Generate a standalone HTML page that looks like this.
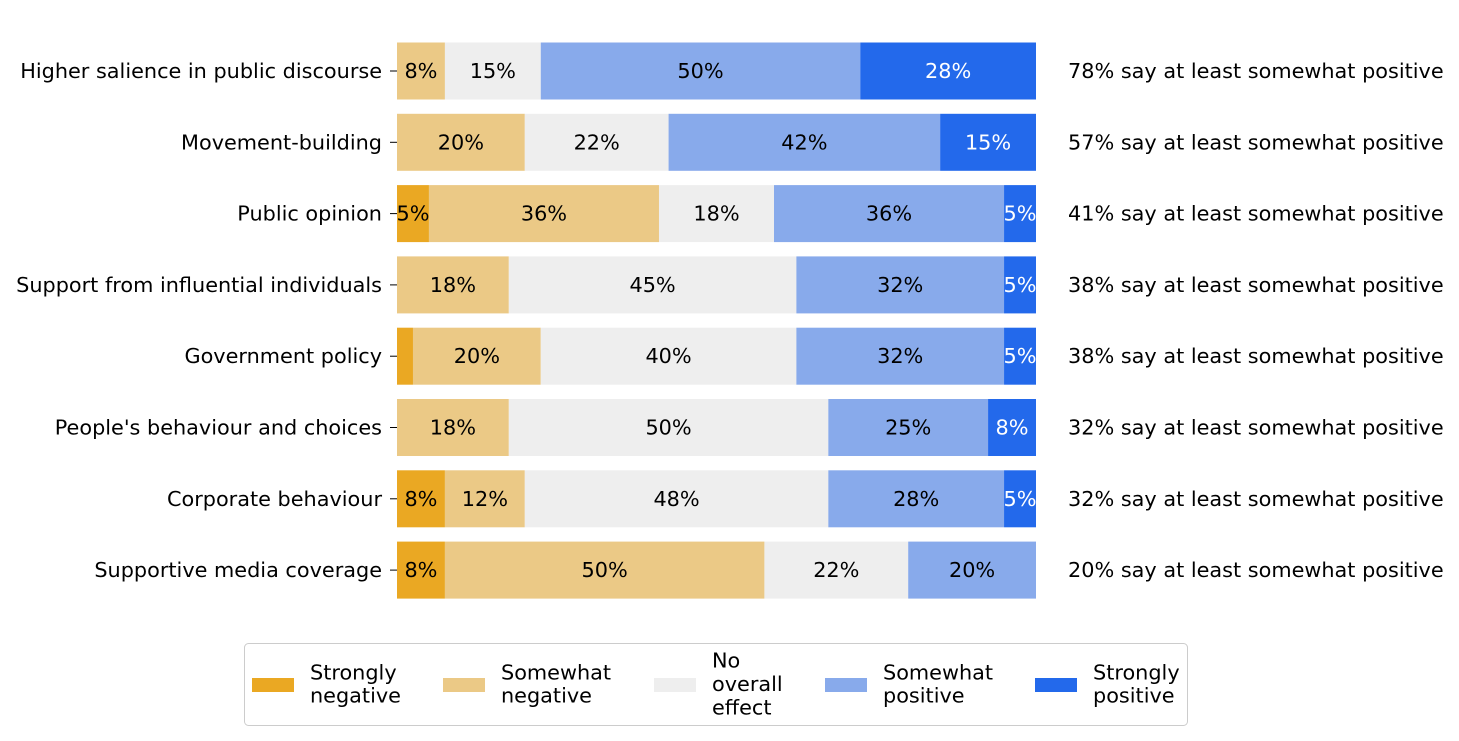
<!DOCTYPE html>
<html><head><meta charset="utf-8">
<style>
body{margin:0;background:#fff;font-family:"DejaVu Sans","Liberation Sans",sans-serif;}
#wrap{position:relative;width:1459px;height:741px;overflow:hidden}
svg text{font-family:"DejaVu Sans","Liberation Sans",sans-serif;font-size:20.8px}
</style></head><body>
<div id="wrap">
<svg id="chart" width="1459" height="741"></svg>
</div>
<script>
const categories=["Higher salience in public discourse","Movement-building","Public opinion","Support from influential individuals","Government policy","People's behaviour and choices","Corporate behaviour","Supportive media coverage"];
const strongNeg=[0,0,5,0,2.5,0,7.5,7.5];
const someNeg=[7.5,20,36,17.5,20,17.5,12.5,50];
const noEffect=[15,22.5,18,45,40,50,47.5,22.5];
const somePos=[50,42.5,36,32.5,32.5,25,27.5,20];
const strongPos=[27.5,15,5,5,5,7.5,5,0];
const positiveLabels=[78,57,41,38,38,32,32,20];
const seriesNames=["Strongly negative","Somewhat negative","No overall effect","Somewhat positive","Strongly positive"];
const legendLines=[["Strongly","negative"],["Somewhat","negative"],["No","overall","effect"],["Somewhat","positive"],["Strongly","positive"]];
const colors=["#eaa823","#ebc986","#eeeeee","#88aaeb","#2369eb"];
const series=[strongNeg,someNeg,noEffect,somePos,strongPos];
const NS="http://www.w3.org/2000/svg";
const svg=document.getElementById('chart');
const x0=397,x1=1036;
const xs=v=>x0+(x1-x0)*v/100;
const yc=i=>71+i*71.3;
const bh=57;
function mk(t,a,p){const e=document.createElementNS(NS,t);for(const k in a)e.setAttribute(k,a[k]);(p||svg).appendChild(e);return e;}
function rnd(v){const f=Math.floor(v);const d=v-f;if(Math.abs(d-0.5)<1e-9)return f%2===0?f:f+1;return Math.round(v);}
categories.forEach((c,i)=>{
  let acc=0;
  series.forEach((s,j)=>{
    const v=s[i];
    if(v>0){
      const r=mk('rect',{x:xs(acc),y:yc(i)-bh/2,width:xs(acc+v)-xs(acc),height:bh,fill:colors[j]});
      
      
      if(v>=5){
        const t=mk('text',{x:(xs(acc)+xs(acc+v))/2,y:yc(i)+7,'text-anchor':'middle',fill:j===4?'#fff':'#000'});
        t.textContent=rnd(v)+'%';
        
        
      }
    }
    acc+=v;
  });
  const tk=mk('line',{x1:390,x2:397,y1:yc(i),y2:yc(i),stroke:'#000','stroke-width':1});
  
  
  const lb=mk('text',{x:382,y:yc(i)+7,'text-anchor':'end',fill:'#000'});
  lb.textContent=c;
  
  
  const rt=mk('text',{x:1068,y:yc(i)+7,fill:'#000'});
  rt.textContent=positiveLabels[i]+'% say at least somewhat positive';
  
  
});
const lg=mk('rect',{x:244.5,y:643.5,width:943,height:82,rx:4,fill:'#fff',stroke:'#ccc'});


const lx=[252,443,654,825,1035];
seriesNames.forEach((n,j)=>{
  const p=mk('rect',{x:lx[j],y:678,width:42,height:14,fill:colors[j]});
  
  
  const lines=legendLines[j];
  const top=684-(lines.length-1)*11.7+7;
  lines.forEach((ln,k)=>{
    const t=mk('text',{x:lx[j]+58,y:top+k*23.4,fill:'#000'});
    t.textContent=ln;
    
    
  });
});
</script>
</body></html>
